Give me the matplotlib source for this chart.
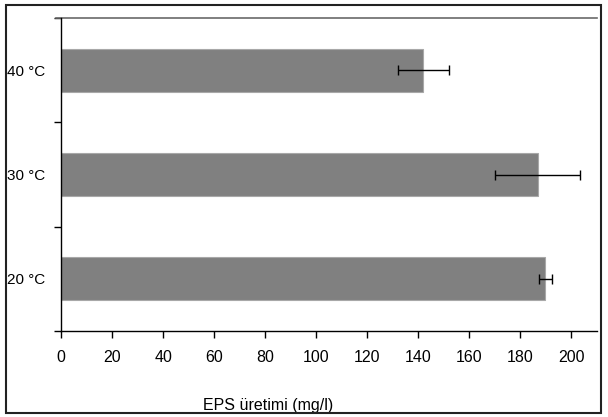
import matplotlib
matplotlib.use("Agg")
import matplotlib.pyplot as plt
from matplotlib.patches import Rectangle

# data
labels = ["20 °C", "30 °C", "40 °C"]
eps = [189.7, 186.8, 142.0]
err = [2.6, 16.7, 10.0]

plt.rcParams['font.family'] = ['Liberation Sans', 'DejaVu Sans']

fig = plt.figure(figsize=(6.08, 4.17), dpi=100)
ax = fig.add_axes([61/608, 86/417, 536/608, 313/417])

ypos = range(len(labels))
ax.barh(ypos, eps, height=0.41, color="#808080", edgecolor="#a8a8a8", linewidth=0.8,
        xerr=err, error_kw=dict(ecolor="black", elinewidth=1.0, capsize=3.5, capthick=1.0))

ax.set_xlim(0, 210)
ax.set_ylim(-0.5, 2.5)
ax.set_xticks(range(0, 201, 20))
ax.set_yticks([-0.5, 0.5, 1.5, 2.5])
ax.set_yticklabels([])
ax.set_yticks(list(ypos), minor=True)
ax.set_yticklabels(labels, minor=True)
ax.tick_params(axis="y", which="minor", length=0, pad=11, labelsize=11)
ax.tick_params(axis="y", which="major", length=5, width=1, direction="out")
ax.tick_params(axis="x", length=5, width=1, direction="out", pad=9, labelsize=11.5)

ax.spines["right"].set_visible(False)
ax.spines["top"].set_visible(False)
ax.spines["left"].set_linewidth(1.0)
ax.spines["bottom"].set_linewidth(1.0)
# top line of plot area, slightly past the left spine
ax.plot([-0.009, 1.0], [1.0, 1.0], transform=ax.transAxes, clip_on=False,
        color="#6a6a6a", linewidth=1.2)

ax.set_xlabel("EPS üretimi (mg/l)", fontsize=11.5)
ax.xaxis.set_label_coords(0.386, -0.214)

# outer frame
fig.patches.append(Rectangle((6/608, 4/417), 595/608, 408/417, transform=fig.transFigure,
                             fill=False, edgecolor="#222222", linewidth=1.5))

fig.savefig("out.png", dpi=100)
